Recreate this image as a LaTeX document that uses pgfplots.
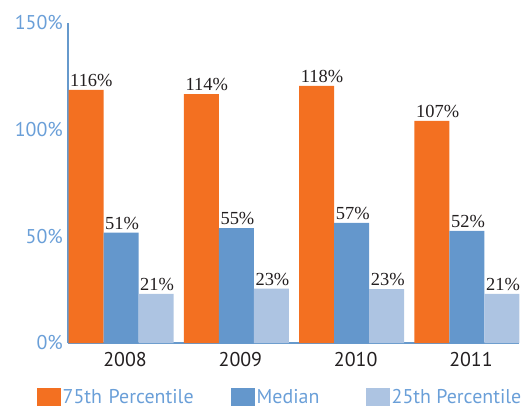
\documentclass[border=0pt]{standalone}
\usepackage{fontspec}
\setmainfont{Liberation Serif}
\newfontfamily\sansf{PT Sans}
\usepackage{pgfplots}
\pgfplotsset{compat=1.18}
\definecolor{orangebar}{HTML}{F37021}
\definecolor{medbar}{HTML}{6497CC}
\definecolor{lightbar}{HTML}{ADC4E2}
\definecolor{axblue}{HTML}{6699CC}
\definecolor{tickblue}{HTML}{6A9FD8}
\definecolor{labelblack}{HTML}{231F20}

\begin{document}
\begin{tikzpicture}
\useasboundingbox (-68bp,-66bp) rectangle (460bp,343bp);
\begin{axis}[
    scale only axis,
    width=451bp,
    height=320bp,
    ybar=0pt,
    bar width=35bp,
    xmin=-0.46, xmax=3.451,
    ymin=0, ymax=150,
    xtick={0,1,2,3},
    xticklabels={2008,2009,2010,2011},
    ytick={0,50,100,150},
    yticklabels={0\%,50\%,100\%,150\%},
    axis x line*=bottom,
    axis y line*=left,
    axis line style={draw=axblue, line width=2bp, -},
    major tick length=0pt,
    ticklabel style={font=\sansf\fontsize{20}{22}\selectfont},
    yticklabel style={text=tickblue, inner sep=0pt, xshift=-5bp},
    xticklabel style={text=labelblack, inner sep=0pt, yshift=-9bp, xshift=4bp},
    /pgf/number format/assume math mode=true,
    clip=false,
    point meta=explicit symbolic,
    nodes near coords={\pgfplotspointmeta\%},
    every node near coord/.append style={anchor=south west, inner sep=0pt,
        xshift=-16bp, yshift=3bp, text=labelblack,
        font=\fontsize{18.5}{20}\selectfont},
    legend columns=3,
    legend style={draw=none, fill=none, at={(-0.0687,-0.168)}, anchor=west,
        inner sep=0pt, font=\sansf\fontsize{20}{22}\selectfont, text=tickblue,
        nodes={inner sep=1.5bp}},
    legend image code/.code={\fill[#1] (0bp,-9bp) rectangle (24bp,9bp);},
]
\addplot[draw=none, fill=orangebar] coordinates {
  (0,118.6) [116] (1,116.7) [114] (2,120.5) [118] (3,104.1) [107]
};
\addlegendentry[text width=167bp, align=left]{75th Percentile}
\addplot[draw=none, fill=medbar] coordinates {
  (0,51.7) [51] (1,53.9) [55] (2,56.3) [57] (3,52.5) [52]
};
\addlegendentry[text width=108bp, align=left, xshift=3bp]{Median}
\addplot[draw=none, fill=lightbar] coordinates {
  (0,23.0) [21] (1,25.5) [23] (2,25.3) [23] (3,23.0) [21]
};
\addlegendentry{25th Percentile}
\end{axis}
\end{tikzpicture}
\end{document}
